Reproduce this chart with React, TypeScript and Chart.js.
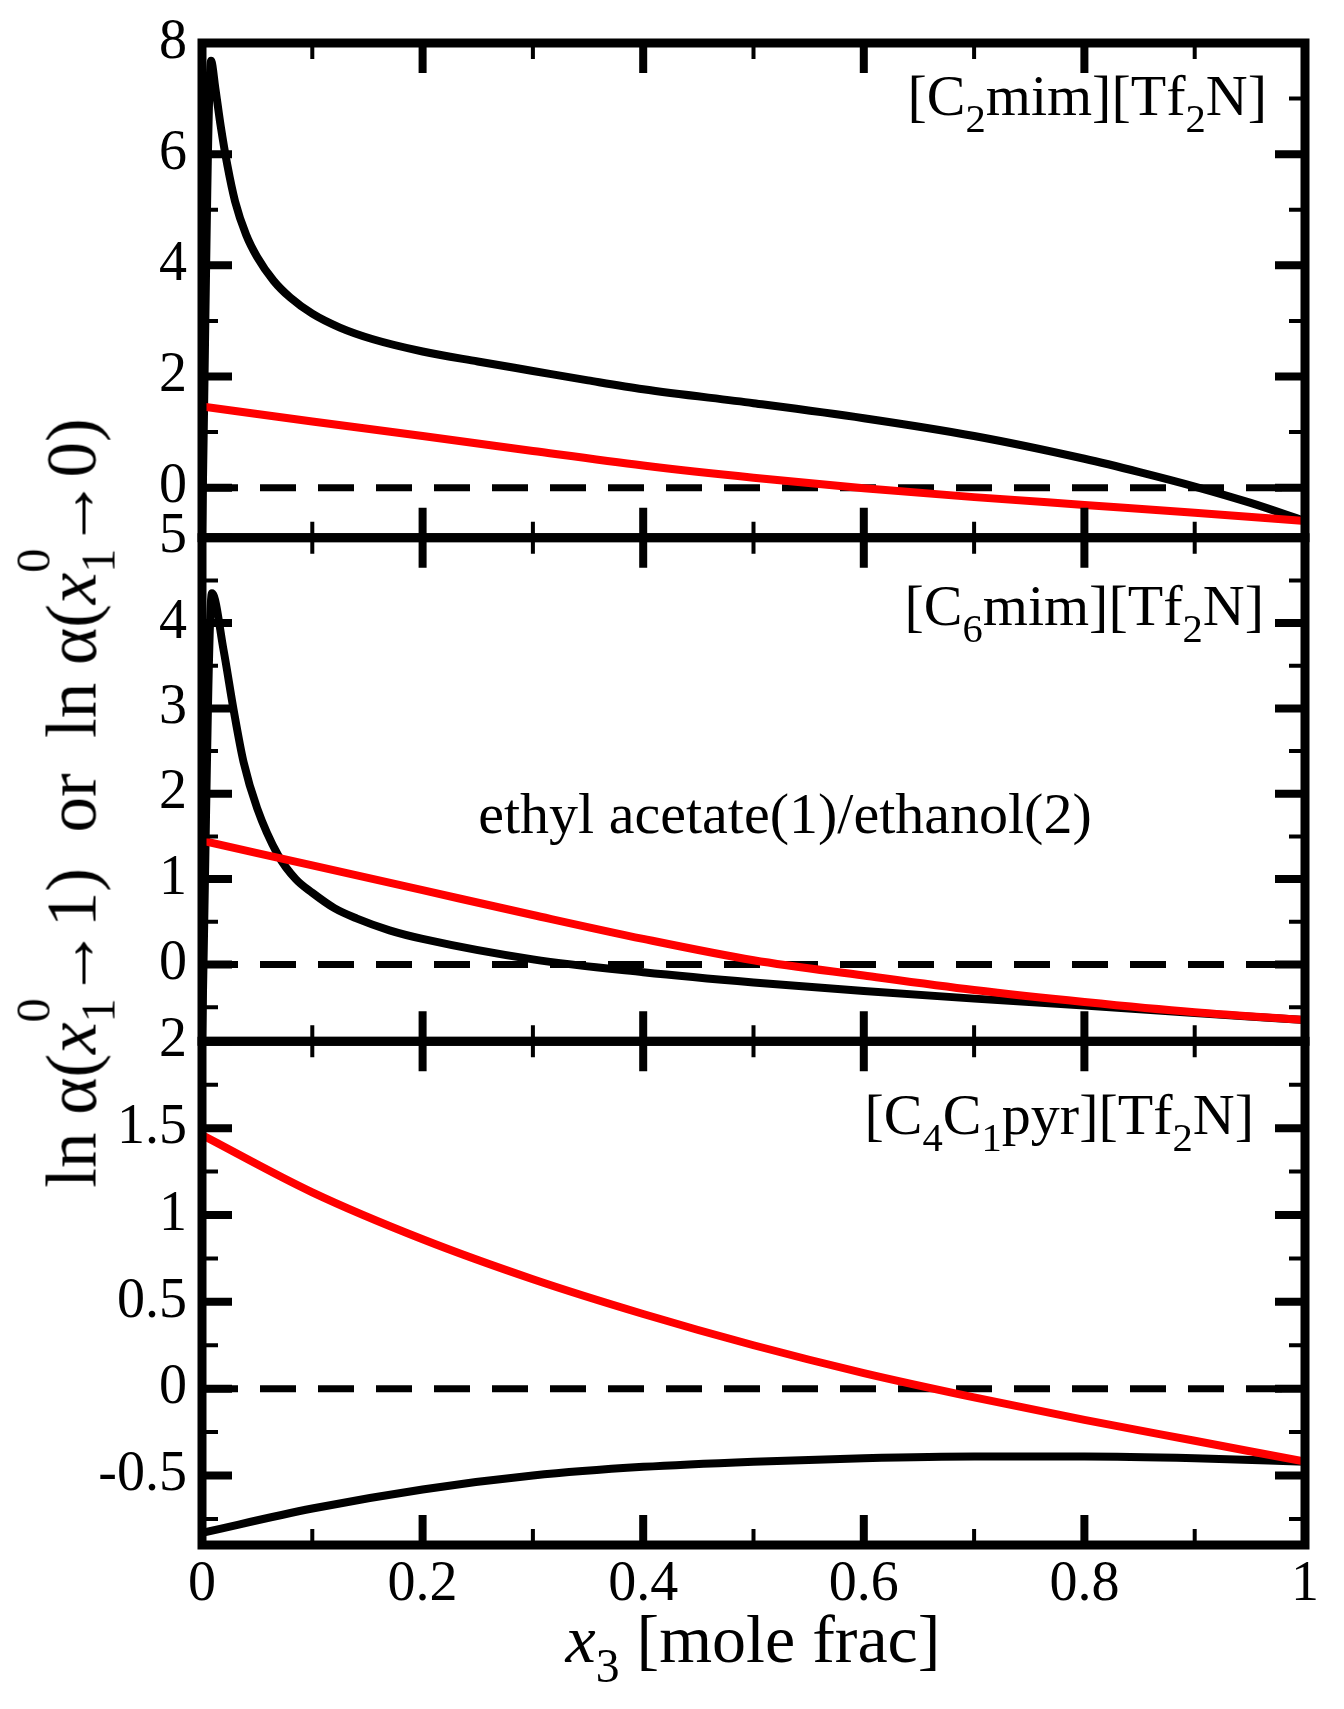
import { useEffect, useRef } from 'react';
import { Chart, registerables } from 'chart.js';

Chart.register(...registerables);

const W = 1344;
const H = 1709;
const PLOT_LEFT = 202;
const PLOT_RIGHT = 1305;
const Y_AXIS_W = 150;
const X_AXIS_H = 80;
const SERIF = '"Liberation Serif", "Times New Roman", serif';

// x axis (shared)
const xMajor = [0, 0.2, 0.4, 0.6, 0.8, 1];
const xMinor = [0.1, 0.3, 0.5, 0.7, 0.9];
const zeroX = [0, 1];
const zeroY = [0, 0];

// panel 1: [C2mim][Tf2N]
const c2BlackX = [0, 0.0082, 0.012, 0.017, 0.023, 0.03, 0.04, 0.05, 0.065, 0.08, 0.1, 0.125, 0.155, 0.2, 0.25, 0.3, 0.35, 0.4, 0.5, 0.6, 0.7, 0.8, 0.85, 0.9, 0.95, 1];
const c2BlackY = [-0.9, 7.68, 7.2, 6.5, 5.8, 5.15, 4.55, 4.15, 3.72, 3.42, 3.13, 2.88, 2.67, 2.45, 2.27, 2.1, 1.93, 1.77, 1.52, 1.25, 0.93, 0.52, 0.28, 0.02, -0.27, -0.6];
const c2RedX = [0, 0.1, 0.2, 0.3, 0.4, 0.5, 0.6, 0.7, 0.8, 0.9, 1];
const c2RedY = [1.46, 1.19, 0.93, 0.66, 0.4, 0.18, -0.01, -0.17, -0.31, -0.45, -0.6];
const c2Major = [0, 2, 4, 6, 8];
const c2Minor = [1, 3, 5, 7];

// panel 2: [C6mim][Tf2N]
const c6BlackX = [0, 0.009, 0.0196, 0.0287, 0.0377, 0.05, 0.069, 0.085, 0.1, 0.12, 0.14, 0.17, 0.2, 0.3, 0.4, 0.5, 0.6, 0.7, 0.8, 0.9, 1];
const c6BlackY = [-0.9, 4.35, 3.68, 2.98, 2.37, 1.83, 1.28, 1.0, 0.84, 0.66, 0.54, 0.4, 0.3, 0.06, -0.09, -0.21, -0.31, -0.4, -0.48, -0.57, -0.65];
const c6RedX = [0, 0.1, 0.2, 0.3, 0.4, 0.5, 0.6, 0.7, 0.8, 0.9, 1];
const c6RedY = [1.45, 1.16, 0.87, 0.58, 0.3, 0.05, -0.13, -0.3, -0.44, -0.56, -0.65];
const c6Major = [0, 1, 2, 3, 4, 5];
const c6Minor = [-0.5, 0.5, 1.5, 2.5, 3.5, 4.5];

// panel 3: [C4C1pyr][Tf2N]
const pyrBlackX = [0, 0.1, 0.2, 0.3, 0.4, 0.5, 0.6, 0.7, 0.8, 0.9, 1];
const pyrBlackY = [-0.83, -0.69, -0.58, -0.5, -0.45, -0.42, -0.4, -0.39, -0.39, -0.4, -0.42];
const pyrRedX = [0, 0.1, 0.2, 0.3, 0.4, 0.5, 0.6, 0.7, 0.8, 0.9, 1];
const pyrRedY = [1.46, 1.13, 0.86, 0.63, 0.43, 0.25, 0.09, -0.05, -0.18, -0.3, -0.42];
const pyrMajor = [-0.5, 0, 0.5, 1, 1.5, 2];
const pyrMinor = [-0.75, -0.25, 0.25, 0.75, 1.25, 1.75];

const panels = [
  { top: 34, bottom: 537.7, min: -0.9, max: 8, showX: false, blackX: c2BlackX, blackY: c2BlackY, redX: c2RedX, redY: c2RedY, major: c2Major, minor: c2Minor },
  { top: 537.7, bottom: 1041.3, min: -0.9, max: 5, showX: false, blackX: c6BlackX, blackY: c6BlackY, redX: c6RedX, redY: c6RedY, major: c6Major, minor: c6Minor },
  { top: 1041.3, bottom: 1545, min: -0.9, max: 2, showX: true, blackX: pyrBlackX, blackY: pyrBlackY, redX: pyrRedX, redY: pyrRedY, major: pyrMajor, minor: pyrMinor },
];

// frame + inward ticks on all four sides
const framePlugin = {
  id: 'frame',
  afterDraw(chart: any, _args: any, opts: any) {
    const { ctx, chartArea: a } = chart;
    const xs = chart.scales.x;
    const ys = chart.scales.y;
    ctx.save();
    ctx.strokeStyle = '#000';
    ctx.lineCap = 'butt';

    const xTicks = (vals: number[], len: number, w: number) => {
      ctx.lineWidth = w;
      vals.forEach((v) => {
        const px = xs.getPixelForValue(v);
        ctx.beginPath();
        ctx.moveTo(px, a.top);
        ctx.lineTo(px, a.top + len);
        ctx.moveTo(px, a.bottom);
        ctx.lineTo(px, a.bottom - len);
        ctx.stroke();
      });
    };
    const yTicks = (vals: number[], len: number, w: number) => {
      ctx.lineWidth = w;
      vals.forEach((v) => {
        const py = ys.getPixelForValue(v);
        ctx.beginPath();
        ctx.moveTo(a.left, py);
        ctx.lineTo(a.left + len, py);
        ctx.moveTo(a.right, py);
        ctx.lineTo(a.right - len, py);
        ctx.stroke();
      });
    };

    xTicks(xMajor, 30, 8);
    xTicks(xMinor, 16, 4);
    yTicks(ys.ticks.map((t: any) => t.value), 30, 8);
    yTicks(opts.minor || [], 16, 4);

    ctx.lineWidth = 9;
    ctx.strokeRect(a.left, a.top, a.right - a.left, a.bottom - a.top);
    ctx.restore();
  },
};

const toPts = (xs: number[], ys: number[]) => xs.map((x, i) => ({ x, y: ys[i] }));

function Panel({ p }: { p: (typeof panels)[number] }) {
  const ref = useRef<HTMLCanvasElement | null>(null);

  useEffect(() => {
    if (!ref.current) return;
    const tickFont = { family: SERIF, size: 56, lineHeight: 1 };

    const chart = new Chart(ref.current, {
      type: 'line',
      data: {
        datasets: [
          { data: toPts(p.redX, p.redY), borderColor: '#ff0000', borderWidth: 8, pointRadius: 0, cubicInterpolationMode: 'monotone' },
          { data: toPts(p.blackX, p.blackY), borderColor: '#000000', borderWidth: 8, pointRadius: 0, cubicInterpolationMode: 'monotone' },
          { data: toPts(zeroX, zeroY), borderColor: '#000000', borderWidth: 7, borderDash: [36, 22], pointRadius: 0 },
        ],
      },
      options: {
        responsive: false,
        animation: false,
        events: [],
        layout: {
          padding: {
            left: PLOT_LEFT - Y_AXIS_W,
            right: W - PLOT_RIGHT,
            top: p.top,
            bottom: p.showX ? H - p.bottom - X_AXIS_H : H - p.bottom,
          },
        },
        plugins: {
          legend: { display: false },
          tooltip: { enabled: false },
          frame: { minor: p.minor },
        } as any,
        scales: {
          x: {
            type: 'linear',
            min: 0,
            max: 1,
            display: p.showX,
            afterBuildTicks: (s: any) => { s.ticks = xMajor.map((v) => ({ value: v })); },
            afterFit: (s: any) => { if (p.showX) s.height = X_AXIS_H; },
            grid: { display: false, drawTicks: false },
            border: { display: false },
            ticks: { padding: 12, autoSkip: false, maxRotation: 0, color: '#000', font: tickFont, callback: (v: any) => String(v) },
          },
          y: {
            type: 'linear',
            min: p.min,
            max: p.max,
            afterBuildTicks: (s: any) => { s.ticks = p.major.map((v) => ({ value: v })); },
            afterFit: (s: any) => { s.width = Y_AXIS_W; },
            grid: { display: false, drawTicks: false },
            border: { display: false },
            ticks: { padding: 15, autoSkip: false, color: '#000', font: tickFont, callback: (v: any) => String(v) },
          },
        },
      },
      plugins: [framePlugin],
    } as any);

    return () => chart.destroy();
  }, [p]);

  return <canvas ref={ref} width={W} height={H} style={{ position: 'absolute', left: 0, top: 0 }} />;
}

const Sub = ({ children }: { children: any }) => (
  <span style={{ fontSize: '0.7em', position: 'relative', top: '0.42em' }}>{children}</span>
);

const SubSup = ({ sub, sup }: { sub: string; sup: string }) => (
  <>
    <span style={{ display: 'inline-block', width: 0, fontSize: '0.68em', position: 'relative', top: '-0.95em' }}>{sup}</span>
    <span style={{ fontSize: '0.68em', position: 'relative', top: '0.4em' }}>{sub}</span>
  </>
);

const X = () => <i>x</i>;

// baseline-positioned text (Liberation Serif: baseline at 0.8375em with line-height 1)
const label = (size: number, baseline: number): React.CSSProperties => ({
  position: 'absolute',
  top: baseline - 0.8375 * size,
  fontFamily: SERIF,
  fontSize: size,
  lineHeight: 1,
  whiteSpace: 'pre',
  color: '#000',
});

export default function App() {
  return (
    <div style={{ position: 'absolute', left: 0, top: 0, width: W, height: H, background: '#fff', overflow: 'hidden' }}>
      {panels.map((p, i) => (
        <Panel key={i} p={p} />
      ))}

      <div style={{ ...label(58, 116), right: W - 1267 }}>
        [C<Sub>2</Sub>mim][Tf<Sub>2</Sub>N]
      </div>
      <div style={{ ...label(58, 626), right: W - 1264 }}>
        [C<Sub>6</Sub>mim][Tf<Sub>2</Sub>N]
      </div>
      <div style={{ ...label(58, 834), left: 785, transform: 'translateX(-50%)' }}>
        ethyl acetate(1)/ethanol(2)
      </div>
      <div style={{ ...label(58, 1135), right: W - 1254 }}>
        [C<Sub>4</Sub>C<Sub>1</Sub>pyr][Tf<Sub>2</Sub>N]
      </div>

      <div style={{ ...label(68, 1662), left: 753, transform: 'translateX(-50%)' }}>
        <X /><Sub>3</Sub> [mole frac]
      </div>

      <div
        style={{
          position: 'absolute',
          left: 72,
          top: 803,
          transform: 'translate(-50%, -50%) rotate(-90deg)',
          fontFamily: SERIF,
          fontSize: 71,
          lineHeight: 1,
          whiteSpace: 'pre',
          color: '#000',
        }}
      >
        ln α(<X /><SubSup sub="1" sup="0" />→1)  or  ln α(<X /><SubSup sub="1" sup="0" />→0)
      </div>
    </div>
  );
}
